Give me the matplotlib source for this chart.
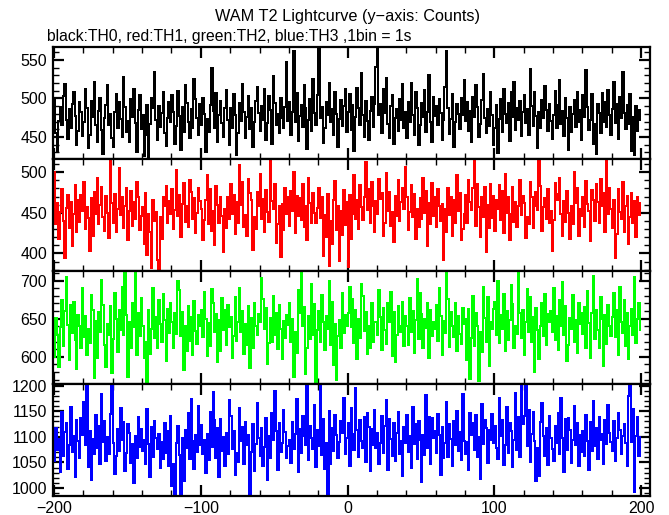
import numpy as np
import matplotlib
matplotlib.use("Agg")
import matplotlib.pyplot as plt
from matplotlib.ticker import MultipleLocator

plt.rcParams['font.family'] = ['Liberation Sans', 'DejaVu Sans']

# ======================================================
# Data: counts per 1 s bin, t = -200 ... 199
# ======================================================

t_start = -200
bin_size = 1

th0 = [
    498, 455, 432, 471, 489, 466, 503, 519, 472, 447, 486, 461, 493, 508, 477, 440, 458, 495, 483, 451,
    470, 512, 488, 436, 452, 497, 476, 521, 465, 443, 484, 500, 459, 428, 474, 491, 517, 466, 480, 449,
    437, 482, 506, 462, 495, 473, 450, 528, 489, 457, 471, 444, 499, 476, 513, 468, 431, 485, 504, 460,
    478, 425, 453, 492, 419, 467, 501, 487, 535, 472, 446, 490, 463, 481, 509, 455, 438, 474, 496, 469,
    505, 483, 441, 464, 510, 477, 433, 489, 457, 518, 494, 470, 448, 486, 462, 525, 499, 475, 452, 493,
    466, 501, 480, 430, 473, 456, 492, 540, 484, 461, 507, 444, 478, 497, 468, 450, 488, 511, 472, 439,
    487, 462, 506, 478, 427, 455, 494, 471, 519, 482, 449, 476, 503, 460, 488, 437, 470, 497, 515, 481,
    458, 490, 472, 513, 446, 468, 503, 485, 441, 529, 494, 466, 480, 455, 500, 474, 462, 489, 548, 471,
    496, 452, 483, 562, 470, 507, 445, 477, 491, 463, 517, 488, 434, 472, 499, 458, 526, 481, 466, 504,
    565, 474, 489, 442, 461, 495, 478, 520, 469, 486, 453, 509, 480, 437, 473, 498, 464, 490, 512, 457,
    483, 506, 459, 491, 432, 476, 514, 488, 466, 533, 479, 450, 497, 471, 446, 484, 502, 463, 493, 541,
    570, 478, 493, 455, 512, 481, 527, 467, 449, 490, 505, 441, 475, 486, 458, 499, 472, 519, 461, 483,
    448, 496, 470, 520, 479, 452, 508, 487, 439, 466, 494, 476, 511, 457, 483, 530, 469, 443, 502, 477,
    490, 465, 499, 481, 446, 472, 515, 562, 488, 454, 473, 506, 437, 469, 493, 480, 460, 500, 478, 524,
    471, 496, 458, 484, 443, 502, 476, 518, 489, 450, 467, 498, 532, 475, 455, 486, 464, 509, 479, 440,
    462, 491, 429, 473, 499, 457, 513, 480, 468, 494, 445, 508, 476, 522, 459, 487, 472, 497, 451, 483,
    505, 468, 486, 453, 538, 490, 464, 509, 477, 436, 482, 461, 498, 474, 516, 485, 458, 493, 471, 447,
    479, 510, 462, 492, 524, 467, 484, 451, 500, 475, 433, 489, 457, 480, 498, 463, 509, 470, 485, 446,
    504, 476, 537, 489, 459, 472, 506, 441, 467, 428, 493, 481, 455, 507, 470, 496, 463, 511, 478, 453,
    486, 521, 468, 493, 447, 502, 474, 535, 481, 460, 492, 467, 506, 432, 476, 426, 490, 458, 485, 472,
]

th1 = [
    500, 436, 462, 418, 451, 479, 440, 395, 456, 472, 431, 463, 409, 448, 484, 427, 466, 439, 472, 452,
    488, 430, 457, 444, 403, 468, 421, 476, 449, 493, 436, 460, 482, 445, 428, 471, 450, 419, 515, 462,
    438, 473, 426, 455, 505, 447, 469, 431, 459, 481, 416, 452, 477, 434, 463, 442, 488, 470, 429, 446,
    457, 412, 474, 398, 449, 427, 382, 466, 440, 451, 392, 379, 445, 418, 470, 459, 483, 437, 465, 448,
    479, 430, 453, 503, 446, 472, 420, 461, 487, 439, 458, 433, 490, 476, 442, 468, 425, 450, 481, 464,
    455, 417, 441, 466, 497, 436, 479, 428, 452, 411, 483, 460, 437, 470, 446, 402, 455, 431, 469, 443,
    486, 449, 472, 424, 463, 438, 509, 460, 488, 433, 447, 421, 492, 474, 466, 404, 445, 430, 476, 458,
    498, 443, 467, 427, 478, 451, 439, 514, 464, 455, 485, 413, 436, 458, 396, 461, 429, 480, 448, 470,
    434, 477, 452, 500, 425, 471, 446, 468, 441, 486, 432, 459, 416, 493, 462, 438, 475, 450, 437, 456,
    481, 444, 469, 397, 447, 420, 473, 385, 440, 412, 466, 489, 429, 458, 391, 452, 423, 478, 435, 463,
    383, 472, 418, 449, 497, 443, 466, 430, 484, 457, 441, 470, 512, 454, 479, 437, 488, 459, 426, 465,
    448, 492, 467, 474, 421, 438, 499, 452, 476, 434, 451, 414, 471, 446, 490, 440, 463, 481, 455, 506,
    469, 429, 451, 484, 445, 473, 418, 455, 432, 468, 443, 493, 450, 477, 409, 462, 436, 487, 446, 470,
    433, 479, 458, 440, 461, 392, 455, 427, 481, 447, 470, 421, 466, 438, 496, 452, 475, 417, 430, 449,
    472, 437, 490, 463, 453, 480, 514, 434, 486, 457, 420, 469, 445, 482, 402, 460, 431, 485, 444, 471,
    428, 466, 455, 484, 441, 477, 425, 498, 450, 470, 416, 448, 482, 439, 463, 433, 458, 490, 447, 471,
    462, 419, 445, 436, 488, 470, 431, 459, 476, 454, 514, 483, 428, 457, 468, 442, 479, 437, 452, 403,
    441, 487, 466, 473, 493, 448, 422, 465, 439, 477, 450, 418, 458, 436, 500, 462, 481, 421, 455, 446,
    470, 433, 489, 461, 452, 415, 478, 466, 440, 485, 463, 437, 492, 459, 474, 426, 514, 448, 480, 455,
    431, 466, 395, 424, 479, 451, 442, 488, 427, 458, 471, 412, 445, 475, 438, 464, 420, 469, 447, 462,
]

th2 = [
    600, 651, 628, 587, 639, 675, 614, 660, 705, 642, 596, 668, 631, 672, 622, 584, 655, 640, 611, 690,
    626, 654, 603, 637, 618, 681, 662, 572, 647, 598, 659, 632, 701, 668, 615, 586, 643, 629, 666, 579,
    624, 683, 650, 606, 661, 635, 692, 629, 710, 655, 574, 646, 612, 671, 639, 715, 602, 658, 627, 677,
    640, 598, 619, 566, 662, 604, 637, 690, 625, 652, 611, 674, 643, 620, 682, 648, 595, 663, 631, 670,
    645, 612, 657, 630, 699, 688, 627, 659, 583, 641, 608, 666, 621, 652, 603, 673, 634, 617, 655, 640,
    662, 626, 685, 650, 601, 644, 614, 689, 670, 632, 656, 593, 648, 607, 677, 635, 661, 615, 668, 639,
    652, 598, 627, 679, 621, 645, 690, 633, 660, 604, 643, 615, 666, 585, 651, 612, 671, 640, 628, 656,
    646, 703, 676, 637, 664, 591, 618, 651, 620, 680, 629, 657, 610, 668, 636, 597, 647, 625, 655, 642,
    671, 619, 649, 574, 632, 605, 687, 658, 710, 640, 665, 578, 612, 653, 624, 696, 628, 669, 566, 635,
    660, 620, 681, 645, 609, 653, 637, 700, 616, 672, 589, 643, 569, 627, 648, 611, 683, 631, 655, 640,
    657, 692, 639, 676, 618, 662, 597, 650, 625, 695, 680, 634, 659, 604, 641, 612, 671, 620, 646, 645,
    628, 688, 652, 609, 664, 635, 617, 670, 646, 685, 601, 659, 593, 629, 666, 640, 633, 672, 614, 654,
    641, 615, 677, 632, 660, 605, 648, 702, 624, 683, 656, 611, 650, 638, 670, 598, 662, 627, 645, 636,
    668, 621, 690, 653, 602, 647, 631, 712, 676, 613, 659, 640, 626, 671, 608, 654, 630, 617, 664, 643,
    649, 596, 663, 571, 625, 680, 614, 657, 640, 568, 633, 606, 692, 651, 620, 678, 588, 645, 637, 663,
    672, 629, 700, 618, 655, 636, 682, 608, 660, 622, 648, 694, 669, 612, 641, 630, 710, 658, 625, 661,
    603, 646, 689, 633, 678, 619, 652, 580, 664, 635, 597, 640, 671, 627, 682, 615, 656, 645, 660, 633,
    690, 622, 654, 609, 675, 641, 698, 628, 667, 594, 616, 651, 637, 681, 620, 648, 605, 670, 643, 658,
    630, 665, 612, 686, 644, 599, 657, 706, 623, 662, 635, 611, 678, 649, 588, 655, 617, 668, 640, 627,
    652, 684, 626, 661, 603, 692, 646, 631, 675, 614, 658, 597, 640, 663, 629, 705, 618, 650, 670, 635,
]

th3 = [
    1052, 1118, 1074, 1096, 1031, 1148, 1063, 1109, 1126, 1037, 1084, 1159, 1071, 1102, 1022, 1133, 1091, 1058, 1137, 1104,
    1168, 1083, 1207, 1041, 1112, 1016, 1095, 1067, 1142, 1078, 1121, 1046, 1183, 1089, 1130, 1052, 1099, 1066, 1144, 1204,
    1087, 1028, 1062, 1116, 1073, 1157, 1093, 1128, 1034, 1069, 1124, 1108, 1049, 1086, 1010, 1101, 1059, 1139, 1081, 1115,
    1072, 1093, 1047, 1154, 1085, 1021, 1119, 1061, 1131, 1098, 1076, 1105, 1039, 1090, 1057, 1127, 1068, 1112, 1043, 1141,
    1003, 1046, 980, 1088, 1122, 1064, 976, 1097, 1013, 1113, 1079, 1146, 1056, 1174, 1092, 1038, 1103, 1071, 1161, 1084,
    1123, 1067, 1094, 1029, 1106, 1054, 1149, 1080, 1187, 1132, 1058, 1118, 1021, 1135, 1072, 1099, 1043, 1108, 1066, 1171,
    1140, 1077, 1111, 1026, 1068, 1051, 1156, 1092, 1119, 1047, 1129, 1083, 1104, 978, 1070, 1124, 1034, 1086, 1166, 1097,
    1063, 1117, 1042, 1080, 1137, 1016, 1101, 1059, 1147, 1093, 1189, 1112, 1036, 1126, 1071, 1087, 1152, 1109, 1058, 1082,
    1094, 1048, 1128, 1077, 1106, 1173, 1031, 1115, 1069, 1141, 1102, 1084, 1206, 1054, 1121, 1097, 1076, 1162, 1041, 1113,
    1082, 1203, 1064, 1134, 1037, 1088, 977, 1151, 1046, 1117, 1073, 1142, 1103, 1059, 1089, 1131, 1107, 1176, 1066, 1098,
    1126, 1042, 1157, 1105, 1074, 1196, 1114, 1061, 1132, 1092, 1078, 1138, 1051, 1146, 1120, 1033, 1116, 1084, 1153, 1079,
    1107, 1046, 1088, 1141, 1068, 1122, 1171, 1036, 1134, 1095, 1063, 1127, 1052, 1108, 1149, 1066, 1091, 1023, 1119, 1087,
    1143, 1071, 1101, 1039, 1158, 1086, 1124, 1057, 1130, 1093, 1012, 1104, 1064, 1181, 1078, 1139, 1046, 1136, 1097, 1112,
    1069, 1144, 1103, 1026, 1119, 1058, 1087, 1168, 1061, 1125, 1096, 1042, 1131, 1083, 1151, 1072, 1109, 1054, 1184, 1092,
    1067, 1089, 1036, 1147, 1104, 1126, 1074, 1142, 1061, 1099, 1018, 1164, 1085, 1132, 1117, 1049, 1113, 1093, 1144, 1087,
    1121, 1078, 1056, 1176, 1101, 1133, 1044, 1084, 1159, 1068, 1127, 1112, 1041, 1094, 1186, 1075, 1138, 1061, 1199, 1124,
    1141, 1203, 1082, 1153, 1051, 1106, 1148, 1092, 1014, 1079, 1023, 1129, 1166, 1102, 1063, 1118, 1045, 1140, 1097, 1076,
    1053, 1121, 1087, 1146, 1067, 1176, 1098, 1032, 1134, 1074, 1137, 1114, 1049, 1093, 1161, 1083, 1126, 1042, 1104, 1071,
    1111, 1062, 1143, 1091, 1036, 1128, 1073, 1169, 1082, 1117, 1056, 1139, 1094, 1106, 1047, 1132, 1085, 1163, 1108, 1089,
    1072, 1131, 1053, 1097, 1147, 1114, 1066, 1101, 1125, 1088, 1043, 1179, 1212, 1090, 1154, 992, 1102, 1138, 1063, 1099,
]

series = [th0, th1, th2, th3]
colors = ['#000000', '#ff0000', '#00ff00', '#0000ff']
ylims = [(421, 567), (378, 516), (565, 712), (985, 1204)]
yticks = [[450, 500, 550], [400, 450, 500], [600, 650, 700],
          [1000, 1050, 1100, 1150, 1200]]

title = "WAM T2 Lightcurve (y\u2212axis: Counts)"
subtitle = "black:TH0, red:TH1, green:TH2, blue:TH3 ,1bin = 1s"

# ======================================================
# Plot
# ======================================================

fig = plt.figure(figsize=(6.69, 5.15), dpi=100)

left, right = 0.0785, 0.9716
bottom, top = 0.0375, 0.9087
h = (top - bottom) / 4

t = t_start + bin_size * np.arange(len(th0)) + 0.5 * bin_size

for k, (y, c) in enumerate(zip(series, colors)):

    ax = fig.add_axes([left, top - (k + 1) * h, right - left, h])

    ax.step(t, y, where='mid', color=c, lw=1.3, antialiased=False)

    ax.set_xlim(-201, 206)
    ax.set_ylim(*ylims[k])

    ax.set_yticks(yticks[k])
    ax.yaxis.set_minor_locator(MultipleLocator(10))
    ax.xaxis.set_major_locator(MultipleLocator(100))
    ax.xaxis.set_minor_locator(MultipleLocator(20))

    ax.tick_params(which='both', direction='in', top=True, right=True,
                   labelsize=11.5, pad=4)
    ax.tick_params(which='major', length=8, width=1.6)
    ax.tick_params(which='minor', length=4, width=1.0)

    for s in ax.spines.values():
        s.set_linewidth(1.6)

    if k < 3:
        ax.tick_params(labelbottom=False)

fig.text(0.519, 0.967, title, ha='center', va='center', fontsize=11.7)
fig.text(0.070, 0.930, subtitle, ha='left', va='center', fontsize=11.3)

plt.savefig("out.png", dpi=100)
